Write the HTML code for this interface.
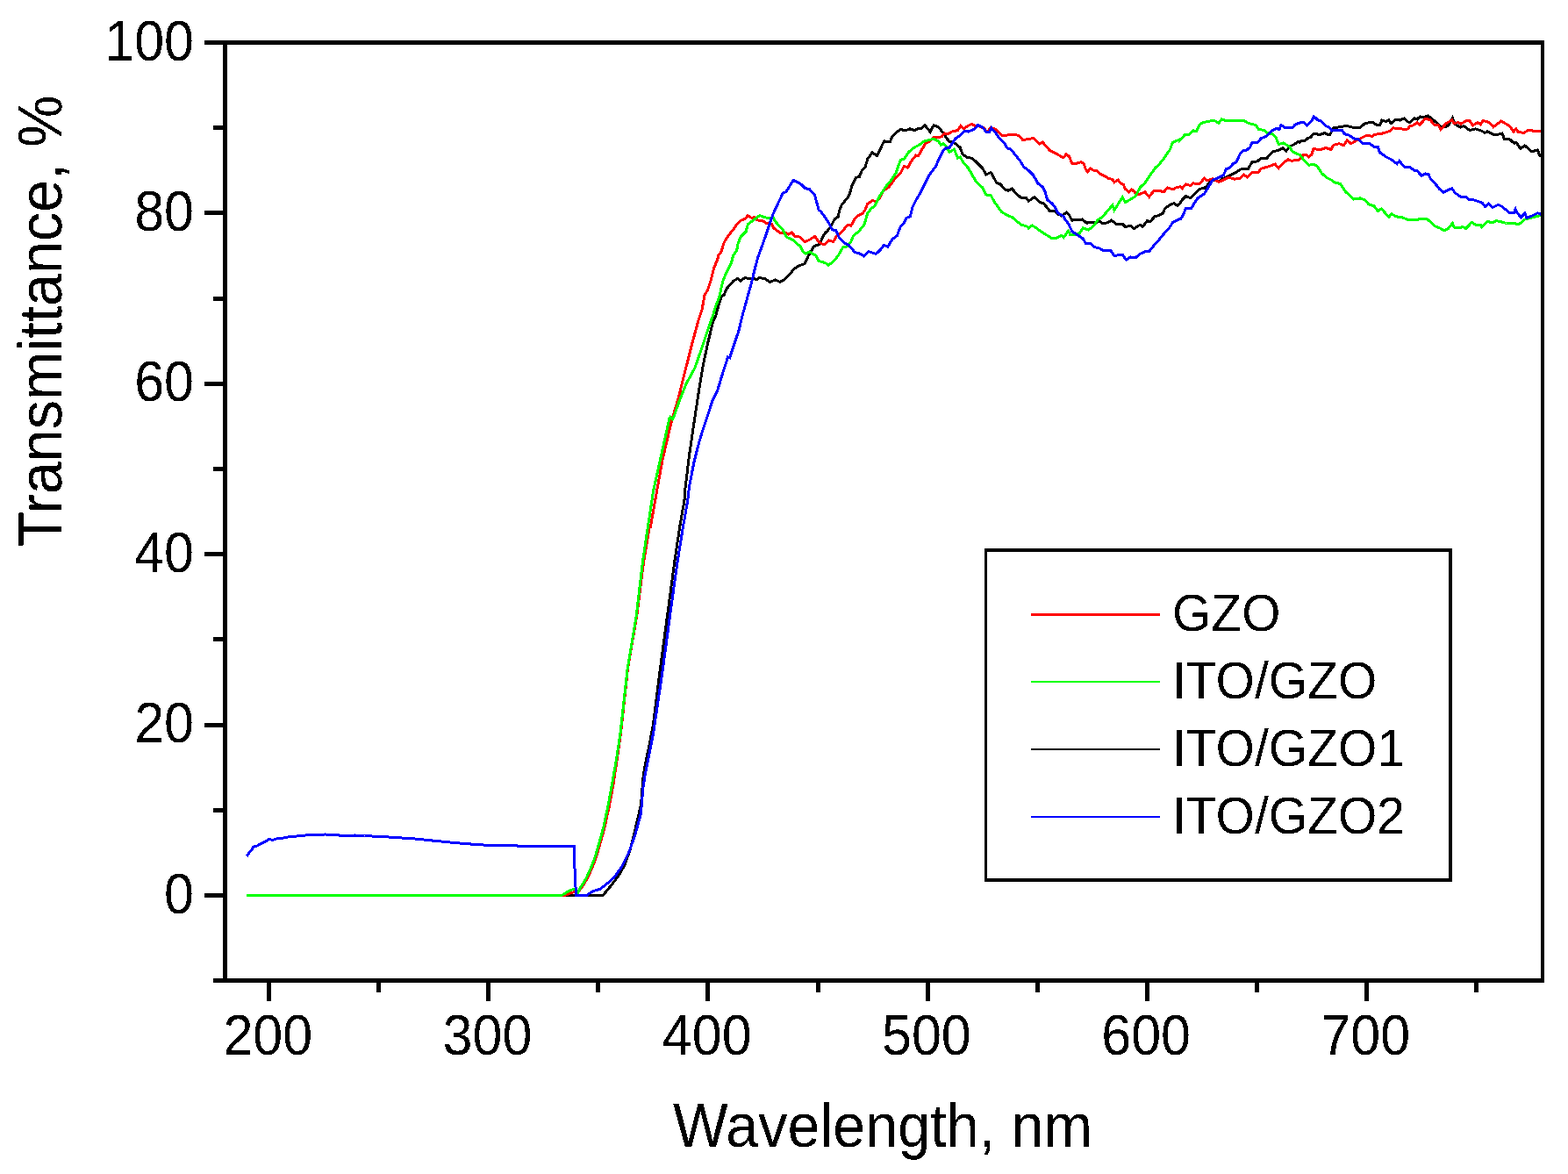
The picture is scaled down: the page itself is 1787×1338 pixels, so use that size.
<!DOCTYPE html><html><head><meta charset="utf-8"><title>Transmittance</title>
<style>html,body{margin:0;padding:0;background:#fff;overflow:hidden}svg{display:block}text{font-family:'Liberation Sans', Arial, Helvetica, sans-serif;fill:#000}</style></head><body>
<svg width="1787" height="1338" viewBox="0 0 1787 1338">
<rect width="1787" height="1338" fill="#fff"/>
<defs><clipPath id="pa"><rect x="259" y="51" width="1497" height="1064"/></clipPath><filter id="bw" x="-5%" y="-5%" width="110%" height="110%" color-interpolation-filters="sRGB"><feComponentTransfer><feFuncA type="discrete" tableValues="0 1"/></feComponentTransfer></filter></defs>
<g clip-path="url(#pa)" fill="none" stroke-width="3" stroke-linejoin="miter" stroke-linecap="butt" shape-rendering="crispEdges">
<path d="M281.0 1020.4 L686.9 1020.5 L689.7 1017.4 L693.3 1013.1 L696.8 1008.8 L700.0 1004.6 L705.4 997.4 L711.6 986.4 L718.0 969.0 L724.2 944.0 L730.5 917.3 L732.8 887.5 L735.2 871.8 L739.9 849.8 L744.6 824.7 L752.5 761.7 L760.6 701.2 L768.7 640.7 L774.7 600.3 L780.0 570.0 L780.2 563.0 L785.6 518.2 L790.9 482.3 L796.3 446.5 L801.7 414.2 L807.1 389.1 L812.4 367.6 L815.7 360.0 L818.8 348.7 L822.0 338.2 L825.1 336.1 L828.3 328.8 L835.6 320.4 L840.8 317.3 L843.9 320.4 L849.2 316.3 L853.4 317.8 L858.6 317.3 L862.8 318.9 L864.9 316.8 L871.2 317.3 L877.4 321.5 L883.7 318.9 L888.9 321.5 L894.2 318.4 L900.5 312.1 L904.6 306.8 L910.9 302.7 L917.2 300.6 L921.4 291.2 L927.7 280.7 L933.9 278.6 L938.1 269.2 L940.0 266.0 L941.0 265.0 L943.1 263.1 L947.1 257.8 L951.1 249.7 L955.2 247.0 L956.5 240.3 L959.2 233.5 L965.9 225.5 L968.6 220.1 L971.3 210.7 L975.3 202.6 L979.4 201.3 L982.1 194.6 L986.1 190.5 L988.8 181.1 L994.2 173.7 L999.6 177.7 L1003.6 169.0 L1007.6 160.9 L1014.3 161.6 L1017.0 155.6 L1022.4 150.2 L1026.4 147.5 L1031.8 148.8 L1037.2 146.8 L1042.6 148.8 L1045.3 146.8 L1050.7 146.1 L1054.0 142.8 L1060.1 150.2 L1064.1 142.8 L1069.5 144.8 L1075.0 151.5 L1076.1 152.0 L1078.1 156.7 L1082.1 161.4 L1087.5 162.7 L1094.2 168.1 L1096.9 175.5 L1102.3 179.6 L1107.7 180.2 L1113.0 184.9 L1119.8 191.7 L1123.8 199.1 L1129.2 196.4 L1135.9 208.5 L1139.9 209.8 L1145.3 215.9 L1149.3 217.2 L1153.4 215.2 L1158.8 221.2 L1164.1 225.9 L1169.5 225.3 L1172.2 229.3 L1178.9 224.6 L1185.7 230.7 L1189.7 232.0 L1196.4 240.7 L1201.1 240.1 L1205.8 244.1 L1210.0 245.4 L1210.2 245.9 L1215.5 242.2 L1218.6 245.3 L1221.7 251.1 L1225.9 250.6 L1233.3 250.0 L1238.5 254.2 L1242.7 253.2 L1248.9 253.7 L1253.1 252.1 L1256.3 254.8 L1262.5 253.7 L1266.7 251.1 L1272.0 255.3 L1279.3 255.3 L1282.4 258.4 L1288.7 257.4 L1292.4 260.5 L1299.2 256.3 L1302.3 258.4 L1307.5 251.6 L1310.7 252.7 L1315.9 246.9 L1321.1 245.3 L1325.3 243.2 L1327.4 238.0 L1332.7 233.8 L1337.9 231.7 L1342.1 234.4 L1345.0 231.2 L1347.3 227.8 L1351.5 223.6 L1356.7 225.7 L1362.0 220.5 L1367.2 215.2 L1372.4 214.7 L1375.6 211.6 L1381.9 204.8 L1389.2 206.8 L1393.4 203.7 L1399.6 201.1 L1407.0 197.4 L1415.3 192.2 L1422.7 192.2 L1426.8 184.9 L1433.1 183.8 L1437.3 180.2 L1443.6 180.7 L1445.7 177.5 L1450.9 172.8 L1457.2 171.3 L1462.4 168.7 L1465.6 172.3 L1470.8 166.6 L1475.0 164.5 L1480.0 161.3 L1481.4 162.3 L1483.4 160.5 L1487.6 160.0 L1490.7 157.4 L1493.8 156.3 L1497.0 152.1 L1501.2 152.7 L1503.3 153.7 L1509.5 151.6 L1513.7 153.7 L1515.8 153.2 L1520.0 145.9 L1529.4 144.3 L1534.6 143.3 L1542.0 145.3 L1550.3 145.3 L1555.6 140.6 L1563.9 139.1 L1569.2 142.7 L1572.8 142.7 L1574.9 137.0 L1579.6 138.5 L1582.8 137.0 L1585.4 140.6 L1590.1 136.5 L1595.3 137.0 L1600.6 134.9 L1603.7 138.5 L1606.8 139.6 L1612.1 134.9 L1615.0 135.9 L1615.2 135.7 L1618.4 132.9 L1621.2 134.0 L1627.4 131.8 L1632.4 135.7 L1636.9 139.6 L1641.4 144.1 L1648.1 144.7 L1651.5 141.9 L1655.4 134.6 L1658.2 141.3 L1664.4 145.2 L1668.3 143.5 L1675.0 148.6 L1681.7 146.9 L1688.5 149.1 L1692.4 151.4 L1695.2 149.7 L1701.9 153.1 L1707.5 153.1 L1712.0 152.0 L1714.3 158.1 L1719.9 158.1 L1725.5 163.2 L1728.3 162.6 L1732.8 169.3 L1737.8 166.0 L1745.7 172.7 L1752.4 171.0 L1754.6 177.2 L1758.0 179.0" stroke="#000"/>
<path d="M281.0 1020.4 L643.0 1020.5 L654.2 1016.6 L658.5 1017.7 L662.6 1011.7 L666.2 1006.3 L669.7 1000.3 L673.3 992.5 L676.8 984.0 L680.4 974.0 L683.9 961.2 L686.8 951.3 L689.6 940.7 L691.7 930.0 L694.0 920.5 L699.0 893.8 L703.0 867.1 L707.5 835.7 L715.5 761.7 L725.8 701.2 L733.5 640.7 L740.2 600.3 L741.4 600.3 L748.5 560.0 L755.4 522.2 L765.6 479.0 L773.2 453.6 L780.8 423.1 L788.5 392.6 L796.1 364.7 L800.0 352.9 L803.1 336.1 L806.3 330.9 L810.5 318.4 L813.6 305.8 L817.8 295.3 L818.8 291.2 L822.0 287.0 L825.1 276.5 L830.3 268.1 L835.6 261.9 L839.8 255.6 L843.9 251.4 L849.2 249.3 L852.3 245.6 L856.5 248.3 L859.6 247.7 L862.8 250.9 L869.1 251.4 L873.2 254.5 L879.5 255.6 L881.6 259.8 L885.8 262.9 L888.9 265.0 L894.2 265.0 L898.4 267.1 L902.5 265.0 L905.7 269.2 L912.0 270.2 L917.2 275.5 L922.4 273.4 L928.7 269.2 L932.9 275.5 L937.1 278.1 L940.0 278.1 L944.3 274.4 L944.4 274.6 L949.8 275.2 L953.8 268.5 L959.2 264.5 L965.9 256.4 L970.0 257.1 L974.0 249.7 L978.0 245.7 L983.4 243.0 L986.1 238.9 L988.8 232.2 L994.2 228.8 L999.6 229.5 L1003.6 224.1 L1006.3 217.4 L1013.0 213.4 L1019.7 204.0 L1026.4 197.2 L1030.5 189.2 L1034.5 191.2 L1038.5 183.8 L1043.9 177.1 L1046.6 177.7 L1050.7 170.3 L1054.7 163.6 L1058.7 161.6 L1064.1 156.2 L1069.5 156.9 L1073.5 155.6 L1075.0 153.5 L1076.7 152.0 L1080.8 152.7 L1084.8 150.0 L1091.5 148.6 L1094.9 143.2 L1098.2 146.6 L1102.3 143.9 L1107.7 141.2 L1111.7 143.9 L1115.7 143.9 L1121.1 145.9 L1125.1 150.6 L1129.2 145.3 L1134.6 147.3 L1141.3 154.0 L1148.0 154.0 L1156.1 153.3 L1161.4 154.7 L1165.5 159.4 L1172.2 158.7 L1177.6 157.4 L1184.3 164.1 L1188.3 162.1 L1196.4 171.5 L1204.5 175.5 L1210.0 178.9 L1212.3 179.4 L1214.9 175.8 L1218.6 178.4 L1221.7 186.2 L1227.0 186.2 L1232.2 184.6 L1235.3 186.7 L1237.4 193.0 L1239.5 195.6 L1242.7 192.0 L1246.9 194.6 L1250.0 194.6 L1254.2 198.3 L1259.4 200.9 L1263.6 203.5 L1267.8 204.5 L1269.9 207.7 L1274.1 205.1 L1277.2 208.7 L1280.3 210.3 L1282.4 215.5 L1286.6 218.7 L1289.8 216.0 L1292.9 218.7 L1295.0 221.8 L1299.2 221.3 L1304.9 218.7 L1309.6 224.4 L1314.9 217.6 L1320.1 217.1 L1326.4 218.7 L1330.6 213.9 L1336.8 216.0 L1341.0 213.4 L1345.0 212.9 L1347.3 214.7 L1351.5 210.0 L1356.7 211.6 L1359.9 208.9 L1367.2 209.5 L1372.4 203.2 L1375.6 205.8 L1381.9 203.7 L1389.2 207.4 L1394.4 205.3 L1399.6 202.1 L1407.0 204.2 L1413.2 203.2 L1417.4 199.0 L1421.6 202.1 L1426.8 196.9 L1434.2 196.4 L1437.3 192.2 L1446.7 189.6 L1453.0 187.0 L1457.2 191.7 L1461.4 187.0 L1467.7 181.7 L1471.8 183.3 L1480.0 182.3 L1482.3 180.4 L1485.5 176.2 L1488.6 176.2 L1491.7 178.8 L1494.9 176.2 L1497.0 169.4 L1502.2 170.5 L1507.4 169.9 L1510.6 168.4 L1516.9 170.5 L1520.0 165.2 L1526.3 163.7 L1531.5 165.7 L1535.2 160.0 L1539.9 163.7 L1544.1 161.0 L1550.3 157.9 L1557.7 154.2 L1563.9 155.3 L1566.0 153.2 L1573.4 152.7 L1578.6 151.1 L1583.8 149.5 L1588.0 145.9 L1593.2 146.4 L1600.6 147.4 L1604.7 146.9 L1606.8 143.8 L1611.0 142.7 L1615.0 139.6 L1615.8 140.5 L1617.8 142.4 L1624.6 135.1 L1630.2 136.8 L1634.7 142.4 L1639.1 142.4 L1642.0 147.5 L1648.1 140.7 L1654.8 136.8 L1657.1 140.7 L1661.6 139.6 L1664.9 141.3 L1670.5 137.9 L1675.0 137.9 L1678.4 143.0 L1684.0 139.6 L1687.4 141.9 L1690.2 137.4 L1697.4 139.6 L1701.9 144.7 L1710.9 137.9 L1717.6 141.9 L1721.0 144.1 L1724.9 150.3 L1727.7 146.9 L1730.0 150.3 L1736.7 151.4 L1742.3 148.0 L1746.8 149.1 L1758.0 149.1 L1758.1 149.5" stroke="#f00"/>
<path d="M281.0 1020.4 L640.0 1020.4 L642.8 1019.1 L646.4 1016.6 L650.7 1014.5 L654.2 1013.4 L656.5 1015.0 L658.1 1018.4 L661.3 1011.7 L664.9 1006.3 L668.4 1000.3 L672.0 992.5 L675.5 984.0 L679.1 974.0 L682.6 961.2 L685.5 951.3 L688.3 940.7 L690.4 930.0 L692.6 920.5 L697.5 893.8 L702.2 867.1 L707.0 835.7 L715.2 761.7 L725.3 701.2 L732.4 640.7 L738.4 600.3 L744.5 560.0 L752.9 522.2 L763.0 476.5 L764.0 475.2 L766.5 477.5 L768.5 473.4 L774.8 455.4 L782.0 437.5 L791.8 419.6 L798.1 401.7 L807.1 374.8 L812.6 359.2 L815.7 348.7 L819.9 338.2 L822.0 327.8 L824.1 319.4 L827.2 312.1 L830.3 305.8 L833.5 299.5 L835.6 291.2 L839.8 284.9 L840.8 278.6 L843.9 270.2 L850.2 263.9 L852.3 255.6 L856.5 252.4 L860.7 249.3 L865.9 245.6 L871.2 247.7 L877.4 248.8 L881.6 248.8 L883.7 252.4 L888.9 258.7 L892.1 261.9 L896.3 270.2 L903.6 273.4 L907.8 277.5 L912.0 280.7 L915.1 287.0 L918.2 289.1 L922.4 287.0 L929.7 291.2 L932.9 297.4 L940.0 299.5 L944.3 301.8 L944.4 302.1 L949.8 298.1 L955.2 291.4 L960.6 282.0 L965.9 280.6 L970.0 275.2 L972.7 268.5 L978.0 264.5 L984.8 256.4 L988.8 243.0 L992.8 237.6 L996.9 234.9 L1002.2 224.1 L1009.0 213.4 L1015.7 205.3 L1021.1 197.2 L1023.8 189.2 L1026.4 182.4 L1030.5 181.1 L1035.9 173.0 L1042.6 167.7 L1048.0 165.0 L1053.3 160.9 L1058.7 159.6 L1064.1 158.2 L1069.5 160.9 L1072.2 165.0 L1075.0 163.6 L1078.1 166.8 L1082.1 173.5 L1087.5 170.1 L1091.5 180.2 L1094.2 178.9 L1098.2 185.6 L1103.6 191.7 L1109.0 201.1 L1113.0 207.8 L1119.8 213.8 L1123.8 221.9 L1129.2 222.6 L1133.2 230.0 L1141.3 241.4 L1148.0 245.4 L1153.4 247.5 L1158.8 252.2 L1164.1 256.2 L1170.9 258.2 L1172.2 260.2 L1176.2 256.9 L1181.6 260.2 L1187.0 264.3 L1192.4 267.6 L1197.8 271.0 L1204.5 271.0 L1210.0 268.3 L1212.3 270.5 L1217.6 263.1 L1219.6 267.3 L1225.9 267.3 L1230.1 266.3 L1234.3 260.0 L1240.6 262.1 L1246.9 256.8 L1251.0 250.6 L1256.3 247.4 L1261.5 241.2 L1267.8 233.8 L1269.9 239.6 L1274.1 232.8 L1279.3 224.9 L1282.4 230.7 L1288.7 227.0 L1293.9 223.9 L1299.2 213.9 L1305.5 207.7 L1309.6 201.4 L1317.0 190.9 L1320.1 188.8 L1326.4 180.5 L1333.7 170.0 L1336.4 162.3 L1343.9 159.3 L1344.2 160.3 L1350.5 153.5 L1354.6 153.5 L1359.9 148.8 L1363.5 149.8 L1367.2 142.0 L1370.3 139.9 L1376.6 138.3 L1383.9 137.3 L1388.7 140.4 L1392.3 135.7 L1396.5 137.3 L1408.0 137.3 L1417.4 137.3 L1422.7 140.4 L1431.0 142.5 L1434.7 147.7 L1440.5 148.3 L1444.6 151.9 L1449.9 152.4 L1454.1 156.6 L1457.2 164.5 L1462.4 162.9 L1469.7 167.1 L1472.9 172.8 L1480.0 176.0 L1481.3 176.2 L1486.5 183.0 L1491.7 188.2 L1497.0 187.2 L1501.2 189.3 L1506.4 197.7 L1512.7 202.9 L1517.9 205.5 L1522.1 208.6 L1527.3 209.2 L1533.6 218.6 L1543.0 227.0 L1550.3 225.9 L1555.6 228.0 L1559.8 232.7 L1566.0 234.8 L1570.2 240.6 L1574.4 238.0 L1582.8 247.4 L1585.9 243.7 L1591.1 246.8 L1598.5 247.9 L1604.7 250.5 L1611.0 250.0 L1615.0 251.0 L1617.8 249.5 L1626.8 250.0 L1635.8 257.9 L1641.4 260.1 L1645.9 262.9 L1650.4 260.7 L1655.4 254.5 L1657.1 259.0 L1663.8 259.6 L1667.2 258.5 L1670.5 260.7 L1677.3 253.4 L1681.7 256.2 L1687.4 256.2 L1688.5 258.5 L1695.2 252.3 L1700.8 254.0 L1705.3 251.7 L1710.9 252.8 L1716.5 254.5 L1722.1 254.0 L1731.1 255.7 L1737.8 250.0 L1744.5 248.4 L1751.3 246.7 L1758.0 244.4 L1758.1 243.9" stroke="#0f0"/>
<path d="M281.2 975.9 L283.4 972.5 L286.8 968.6 L288.5 965.2 L292.4 964.3 L298.0 961.3 L303.6 958.5 L305.8 956.8 L311.4 957.2 L314.8 956.0 L322.6 955.1 L328.2 954.0 L337.2 953.1 L348.3 952.0 L359.5 951.6 L370.7 951.0 L381.9 951.8 L393.1 952.3 L404.3 952.0 L415.5 952.7 L426.7 953.1 L437.9 953.5 L449.1 954.6 L460.3 955.1 L471.8 955.9 L483.5 957.1 L495.3 958.3 L507.0 959.4 L518.8 960.6 L530.5 961.6 L542.3 962.4 L554.0 963.2 L577.5 963.6 L601.0 964.4 L624.5 964.7 L654.5 965.0 L655.0 990.0 L656.5 1020.5 L668.4 1020.5 L672.0 1018.0 L675.5 1015.9 L679.8 1014.5 L684.0 1013.1 L689.7 1008.8 L694.0 1005.3 L700.0 1000.0 L708.5 988.0 L716.4 972.3 L724.2 950.3 L730.5 926.8 L732.8 898.5 L735.2 882.8 L739.9 859.3 L744.6 835.7 L755.5 761.7 L763.6 701.2 L772.0 640.7 L778.5 600.3 L783.8 570.0 L785.6 554.0 L790.9 527.1 L796.3 505.6 L801.7 487.7 L808.9 466.2 L812.4 455.4 L817.8 444.7 L823.2 426.8 L829.5 407.1 L831.6 407.9 L841.8 377.4 L846.0 360.0 L852.3 337.2 L856.5 322.5 L859.6 308.9 L863.8 293.2 L869.1 278.6 L873.2 267.1 L877.4 254.5 L880.6 245.1 L886.8 231.5 L890.0 225.2 L892.1 220.0 L895.7 218.7 L904.3 205.3 L913.0 210.0 L917.7 214.7 L922.4 215.5 L928.6 222.6 L933.3 239.8 L935.0 240.3 L939.0 245.7 L944.4 253.7 L948.4 261.8 L952.5 262.5 L956.5 271.2 L961.9 276.6 L967.3 279.3 L974.0 287.3 L980.7 289.4 L984.8 292.0 L990.1 286.7 L998.2 289.4 L1002.2 286.0 L1007.6 279.3 L1011.7 281.3 L1017.0 272.5 L1022.4 268.5 L1026.4 257.8 L1030.5 253.7 L1033.2 248.3 L1037.2 247.0 L1039.9 236.2 L1043.9 228.2 L1048.0 221.4 L1053.3 210.7 L1058.7 199.9 L1062.8 194.6 L1066.8 189.2 L1069.5 182.4 L1075.0 171.7 L1076.1 170.8 L1078.1 168.8 L1082.1 168.1 L1088.8 158.0 L1092.9 155.3 L1099.6 149.3 L1103.6 150.0 L1110.3 147.3 L1114.4 142.6 L1119.8 145.3 L1123.8 150.0 L1127.8 150.0 L1129.8 145.9 L1134.6 151.3 L1139.9 158.7 L1144.0 162.1 L1148.0 168.8 L1152.0 170.1 L1157.4 176.9 L1162.8 183.6 L1166.8 190.3 L1172.2 194.3 L1177.6 199.7 L1183.0 209.1 L1188.3 213.2 L1191.0 218.5 L1193.7 228.0 L1199.1 232.0 L1203.1 237.4 L1205.8 242.8 L1210.0 245.4 L1212.5 247.0 L1213.4 249.5 L1217.6 254.8 L1221.7 263.6 L1228.0 267.8 L1234.3 272.0 L1237.4 277.3 L1242.7 277.3 L1246.9 281.4 L1253.1 283.0 L1257.3 285.6 L1265.7 285.1 L1269.9 291.4 L1279.3 290.3 L1283.5 296.1 L1288.7 292.9 L1293.9 294.0 L1299.2 289.3 L1305.5 286.7 L1309.6 286.7 L1314.9 279.9 L1319.1 275.7 L1324.3 268.9 L1328.5 264.2 L1332.7 259.5 L1336.8 253.2 L1341.0 251.1 L1345.0 249.5 L1345.4 249.7 L1347.3 247.1 L1351.5 237.7 L1357.8 237.2 L1360.9 232.0 L1365.1 225.7 L1372.4 221.0 L1376.6 214.2 L1381.9 205.3 L1388.1 202.7 L1394.4 199.5 L1397.5 192.7 L1401.7 191.2 L1404.9 187.0 L1409.1 184.4 L1413.2 175.5 L1416.4 171.8 L1420.6 171.3 L1424.8 167.6 L1426.8 162.9 L1433.1 162.4 L1437.3 157.7 L1441.5 156.1 L1444.6 154.0 L1449.9 148.8 L1454.1 146.7 L1458.2 147.2 L1459.8 142.5 L1464.5 145.6 L1469.7 145.1 L1472.9 145.6 L1476.0 142.0 L1480.0 140.4 L1485.5 139.1 L1489.6 142.7 L1494.9 137.5 L1497.5 132.8 L1502.2 137.0 L1505.3 137.5 L1510.6 143.3 L1514.8 145.3 L1517.9 149.0 L1522.1 148.0 L1529.4 148.5 L1532.5 152.7 L1537.8 154.2 L1543.0 157.9 L1548.2 158.9 L1553.5 163.7 L1560.8 163.7 L1566.0 167.3 L1570.2 167.3 L1572.3 173.6 L1579.6 178.8 L1585.9 182.0 L1588.0 183.5 L1592.2 186.7 L1594.8 183.5 L1600.6 190.3 L1606.8 190.3 L1612.1 194.5 L1615.0 194.5 L1615.8 195.5 L1620.1 200.2 L1624.6 197.9 L1627.9 198.5 L1630.2 203.5 L1636.9 210.8 L1640.3 215.3 L1644.8 219.2 L1649.2 217.0 L1654.8 214.7 L1658.2 219.8 L1664.9 224.3 L1670.5 224.3 L1673.9 227.1 L1677.3 227.1 L1684.0 229.3 L1689.6 231.5 L1692.4 235.5 L1696.3 232.1 L1700.8 236.6 L1707.5 233.2 L1712.0 235.5 L1719.9 242.2 L1725.5 242.2 L1727.2 238.3 L1728.8 242.2 L1733.3 247.8 L1737.8 243.3 L1740.0 248.4 L1745.7 246.1 L1752.4 242.8 L1758.0 245.0 L1758.1 245.1" stroke="#00f"/>
</g>
<g fill="#000">
<rect x="254" y="46" width="1506" height="5"/>
<rect x="254" y="1115" width="1506" height="5"/>
<rect x="254" y="46" width="5" height="1074"/>
<rect x="1756" y="46" width="4" height="1074"/>
<rect x="243" y="1115" width="11" height="5"/>
<rect x="233" y="1018" width="21" height="5"/>
<rect x="243" y="921" width="11" height="5"/>
<rect x="233" y="824" width="21" height="5"/>
<rect x="243" y="726" width="11" height="5"/>
<rect x="233" y="629" width="21" height="5"/>
<rect x="243" y="532" width="11" height="5"/>
<rect x="233" y="435" width="21" height="5"/>
<rect x="243" y="338" width="11" height="5"/>
<rect x="233" y="240" width="21" height="5"/>
<rect x="243" y="143" width="11" height="5"/>
<rect x="233" y="46" width="21" height="5"/>
<rect x="304" y="1120" width="5" height="21"/>
<rect x="429" y="1120" width="5" height="11"/>
<rect x="554" y="1120" width="5" height="21"/>
<rect x="679" y="1120" width="5" height="11"/>
<rect x="804" y="1120" width="5" height="21"/>
<rect x="930" y="1120" width="5" height="11"/>
<rect x="1055" y="1120" width="5" height="21"/>
<rect x="1180" y="1120" width="5" height="11"/>
<rect x="1305" y="1120" width="5" height="21"/>
<rect x="1430" y="1120" width="5" height="11"/>
<rect x="1555" y="1120" width="5" height="21"/>
<rect x="1680" y="1120" width="5" height="11"/>
</g>
<g filter="url(#bw)">
<text transform="translate(221 1040.5) scale(1 1.070)" font-size="61" text-anchor="end">0</text>
<text transform="translate(221 846.1) scale(1 1.070)" font-size="61" text-anchor="end">20</text>
<text transform="translate(221 651.7) scale(1 1.070)" font-size="61" text-anchor="end">40</text>
<text transform="translate(221 457.3) scale(1 1.070)" font-size="61" text-anchor="end">60</text>
<text transform="translate(221 262.9) scale(1 1.070)" font-size="61" text-anchor="end">80</text>
<text transform="translate(221 68.5) scale(1 1.070)" font-size="61" text-anchor="end">100</text>
<text transform="translate(305.3 1201.5) scale(1 1.070)" font-size="61" text-anchor="middle">200</text>
<text transform="translate(555.5 1201.5) scale(1 1.070)" font-size="61" text-anchor="middle">300</text>
<text transform="translate(805.7 1201.5) scale(1 1.070)" font-size="61" text-anchor="middle">400</text>
<text transform="translate(1055.9 1201.5) scale(1 1.070)" font-size="61" text-anchor="middle">500</text>
<text transform="translate(1306.1 1201.5) scale(1 1.070)" font-size="61" text-anchor="middle">600</text>
<text transform="translate(1556.3 1201.5) scale(1 1.070)" font-size="61" text-anchor="middle">700</text>
<text transform="translate(767 1307) scale(1 1.060)" font-size="66.5">Wavelength, nm</text>
<text transform="translate(70 623.5) rotate(-90) scale(1 1.060)" font-size="66.5">Transmittance, %</text>
</g>
<g fill="#000"><rect x="1122" y="625" width="533" height="4"/><rect x="1122" y="1001" width="533" height="4"/><rect x="1122" y="625" width="3" height="380"/><rect x="1651" y="625" width="4" height="380"/></g>
<rect x="1175" y="699" width="147" height="3" fill="#f00"/>
<text filter="url(#bw)" transform="translate(1336 718.5) scale(1 1.035)" font-size="57">GZO</text>
<rect x="1175" y="776" width="147" height="2" fill="#0f0"/>
<text filter="url(#bw)" transform="translate(1336 795.5) scale(1 1.035)" font-size="57">ITO/GZO</text>
<rect x="1175" y="853" width="147" height="2" fill="#000"/>
<text filter="url(#bw)" transform="translate(1336 872.5) scale(1 1.035)" font-size="57">ITO/GZO1</text>
<rect x="1175" y="930" width="147" height="2" fill="#00f"/>
<text filter="url(#bw)" transform="translate(1336 949.5) scale(1 1.035)" font-size="57">ITO/GZO2</text>
</svg></body></html>
